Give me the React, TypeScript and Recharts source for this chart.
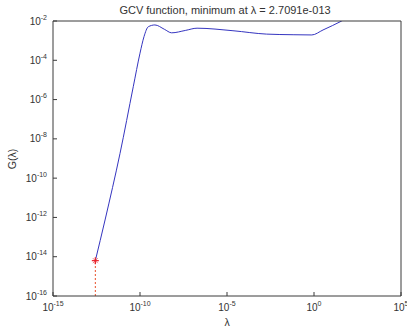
import React from "react";
import { LineChart, Line, XAxis, YAxis } from "recharts";

const lambdaValues = [2.7091e-13, 9.8e-13, 7.1e-12, 4.1e-11, 1.0e-10, 1.7e-10, 3.0e-10, 7.2e-10, 2.5e-9, 6.6e-9, 4e-8, 1.9e-7, 2.2e-5, 1.9e-3, 0.063, 0.75, 3.3, 39, 316, 1e5];
const gcvValues = [6.3e-15, 7.4e-13, 1.8e-9, 4.5e-6, 2.3e-4, 1.6e-3, 5.1e-3, 6.3e-3, 3.8e-3, 2.5e-3, 3.3e-3, 4.3e-3, 3.2e-3, 2.15e-3, 2.0e-3, 1.95e-3, 3.5e-3, 1.0e-2, 2.8e-2, 0.6];

const minLambda = [2.7091e-13];
const minG = [6.3e-15];

const xTicks = [1e-15, 1e-10, 1e-5, 1e0, 1e5];
const xTickLabels = ["-15", "-10", "-5", "0", "5"];
const yTicks = [1e-16, 1e-14, 1e-12, 1e-10, 1e-8, 1e-6, 1e-4, 1e-2];
const yTickLabels = ["-16", "-14", "-12", "-10", "-8", "-6", "-4", "-2"];

const xDomain = [1e-15, 1e5];
const yDomain = [1e-16, 1e-2];

const titleText = "GCV function, minimum at \u03bb = 2.7091e-013";

const curveData = lambdaValues.map((x, i) => ({ x, g: gcvValues[i] }));
const minData = minLambda.map((x, i) => ({ x, g: minG[i] }));
const dropData = [
  { x: minLambda[0], g: yDomain[0] },
  { x: minLambda[0], g: minG[0] },
];

const FONT = "'Liberation Sans', Arial, sans-serif";
const TXT = "#333";

const XTick = (props: any) => {
  const { x, y, payload, index } = props;
  const label = xTickLabels[xTicks.indexOf(payload.value)] ?? xTickLabels[index];
  return (
    <text x={x} y={y} textAnchor="middle" fontFamily={FONT} fill={TXT}>
      <tspan fontSize={10}>10</tspan>
      <tspan fontSize={7} dy={-5}>{label}</tspan>
    </text>
  );
};

const YTick = (props: any) => {
  const { x, y, payload, index } = props;
  const label = yTickLabels[yTicks.indexOf(payload.value)] ?? yTickLabels[index];
  return (
    <text x={x} y={y + 3.5} textAnchor="end" fontFamily={FONT} fill={TXT}>
      <tspan fontSize={10}>10</tspan>
      <tspan fontSize={7} dy={-5}>{label}</tspan>
    </text>
  );
};

const StarDot = (props: any) => {
  const { cx, cy } = props;
  if (cx == null || cy == null) return null;
  const r = 3.5;
  const d = 2.5;
  return (
    <g stroke="#e8202a" strokeWidth={1.2}>
      <line x1={cx - r} y1={cy} x2={cx + r} y2={cy} />
      <line x1={cx} y1={cy - r} x2={cx} y2={cy + r} />
      <line x1={cx - d} y1={cy - d} x2={cx + d} y2={cy + d} strokeWidth={0.6} />
      <line x1={cx - d} y1={cy + d} x2={cx + d} y2={cy - d} strokeWidth={0.6} />
    </g>
  );
};

export default function App() {
  const axisColor = "#3a3a3a";
  return (
    <div style={{ position: "absolute", left: 0, top: 0, width: 407, height: 329, background: "#fff" }}>
      <LineChart width={407} height={329} margin={{ top: 20, right: 5, bottom: 0, left: 0 }}>
        <XAxis
          xAxisId="b"
          type="number"
          dataKey="x"
          scale="log"
          domain={xDomain}
          allowDataOverflow
          ticks={xTicks}
          interval={0}
          height={33}
          tickSize={-4}
          tickMargin={19}
          tick={<XTick />}
          stroke={axisColor}
        />
        <XAxis
          xAxisId="t"
          orientation="top"
          type="number"
          dataKey="x"
          scale="log"
          domain={xDomain}
          allowDataOverflow
          ticks={xTicks}
          interval={0}
          height={1}
          tickSize={-4}
          tick={false}
          stroke={axisColor}
        />
        <YAxis
          yAxisId="l"
          type="number"
          dataKey="g"
          scale="log"
          domain={yDomain}
          allowDataOverflow
          ticks={yTicks}
          interval={0}
          width={53}
          tickSize={-4}
          tickMargin={10}
          tick={<YTick />}
          stroke={axisColor}
        />
        <YAxis
          yAxisId="r"
          orientation="right"
          type="number"
          dataKey="g"
          scale="log"
          domain={yDomain}
          allowDataOverflow
          ticks={yTicks}
          interval={0}
          width={1}
          tickSize={-4}
          tick={false}
          stroke={axisColor}
        />
        <Line
          xAxisId="b"
          yAxisId="l"
          data={dropData}
          dataKey="g"
          type="linear"
          stroke="#e8502a"
          strokeWidth={1}
          strokeDasharray="2 2"
          dot={false}
          isAnimationActive={false}
        />
        <Line
          xAxisId="b"
          yAxisId="l"
          data={curveData}
          dataKey="g"
          type="monotone"
          stroke="#3535c0"
          strokeWidth={1}
          dot={false}
          isAnimationActive={false}
        />
        <Line
          xAxisId="b"
          yAxisId="l"
          data={minData}
          dataKey="g"
          stroke="none"
          dot={<StarDot />}
          isAnimationActive={false}
        />
        <text x={225} y={14} textAnchor="middle" fontFamily={FONT} fontSize={11} fill={TXT}>
          {titleText}
        </text>
        <text x={227} y={326} textAnchor="middle" fontFamily={FONT} fontSize={10.5} fill={TXT}>
          {"\u03bb"}
        </text>
        <text
          x={16}
          y={159}
          textAnchor="middle"
          fontFamily={FONT}
          fontSize={10.5}
          fill={TXT}
          transform="rotate(-90 16 159)"
        >
          {"G(\u03bb)"}
        </text>
      </LineChart>
    </div>
  );
}
